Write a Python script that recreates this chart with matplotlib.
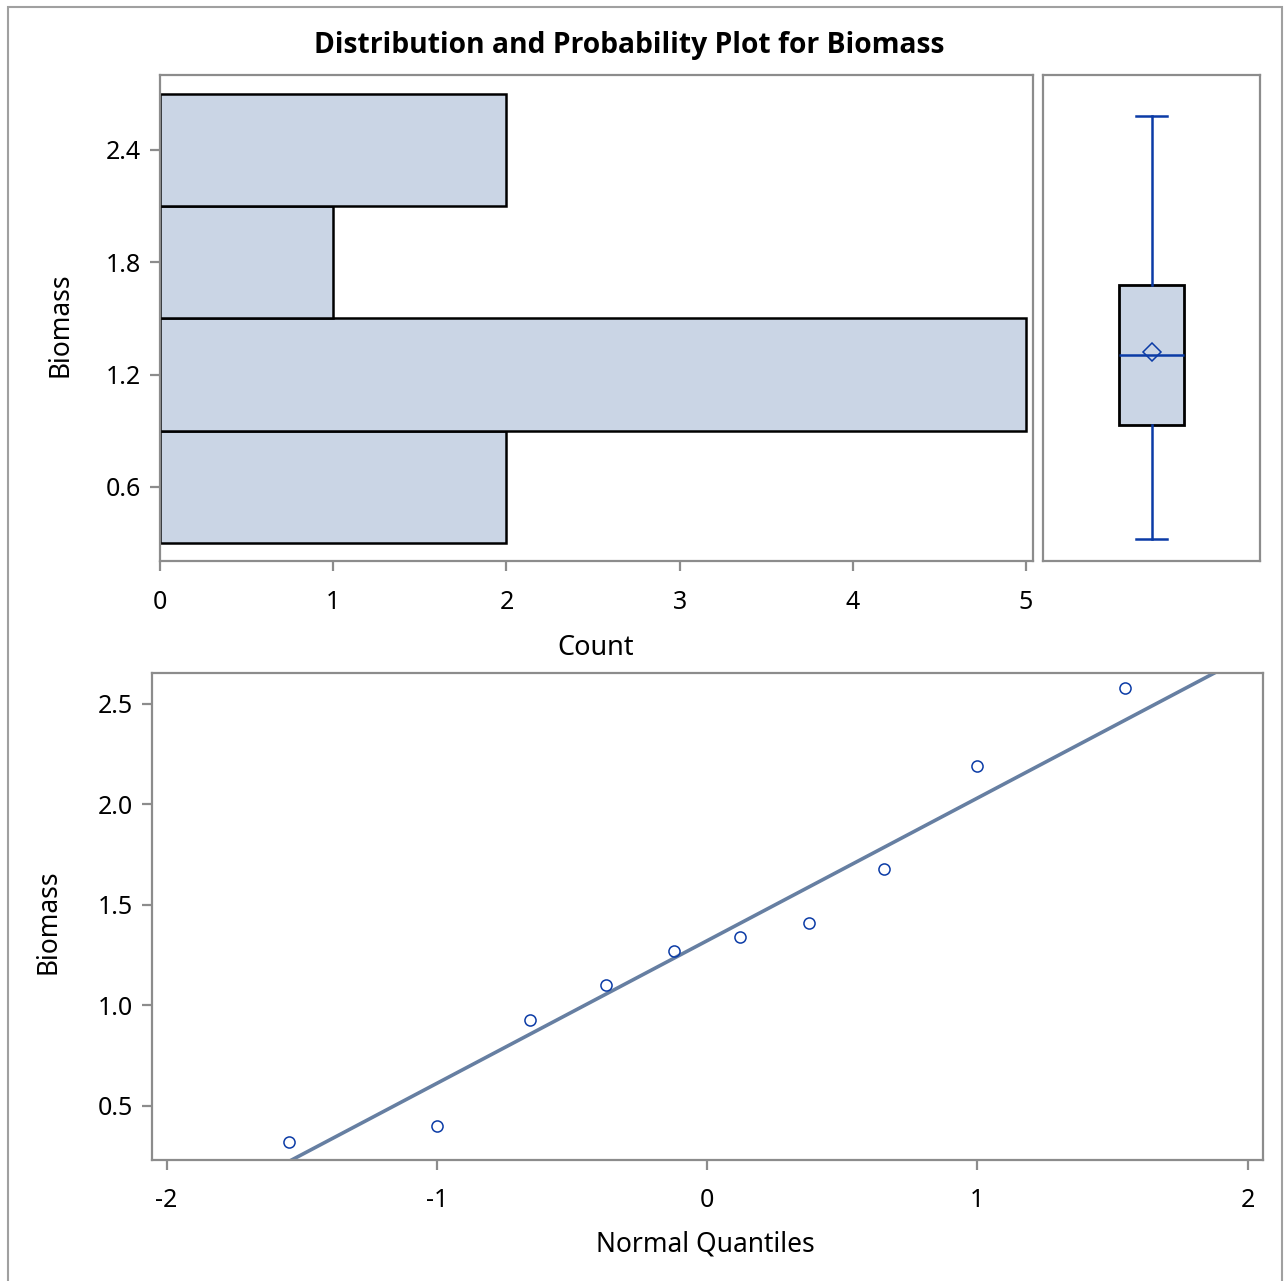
"""Distribution and probability plot for Biomass: horizontal histogram, box plot, normal Q-Q plot."""

from statistics import NormalDist

import matplotlib
matplotlib.use("Agg")
import matplotlib.pyplot as plt
import numpy as np
from matplotlib.patches import Rectangle

plt.rcParams["font.family"] = ["Noto Sans", "DejaVu Sans"]
plt.rcParams["axes.unicode_minus"] = False

biomass = [0.32, 0.40, 0.93, 1.10, 1.27, 1.34, 1.41, 1.68, 2.19, 2.58]
bin_edges = [0.3, 0.9, 1.5, 2.1, 2.7]
hist_yticks = [0.6, 1.2, 1.8, 2.4]
count_ticks = [0, 1, 2, 3, 4, 5]
qq_xticks = [-2, -1, 0, 1, 2]
qq_yticks = [0.5, 1.0, 1.5, 2.0, 2.5]

FILL = "#CAD5E5"
BLUE = "#0B3BA6"
FIT = "#667FA2"
FRAME = "#8C8C8C"

W, H = 1285, 1281
fig = plt.figure(figsize=(W / 100, H / 100), dpi=100)


def box(l, t, r, b):
    return [l / W, 1 - b / H, (r - l) / W, (b - t) / H]


def style(ax, xpad=14, ypad=6.5):
    for s in ax.spines.values():
        s.set_color(FRAME)
        s.set_linewidth(1.6)
    ax.tick_params(direction="out", length=7, width=1.6, color=FRAME,
                   labelsize=18, labelcolor="black")
    ax.tick_params(axis="x", pad=xpad)
    ax.tick_params(axis="y", pad=ypad)


# histogram
ax_h = fig.add_axes(box(160, 75, 1033, 561))
style(ax_h)
ax_h.hist(biomass, bins=bin_edges, orientation="horizontal",
          color=FILL, edgecolor="black", linewidth=1.8)
ax_h.set_xlim(0, 5.04)
ax_h.set_ylim(0.204, 2.80)
ax_h.set_xticks(count_ticks)
ax_h.set_yticks(hist_yticks)
ax_h.set_yticklabels([f"{v:.1f}" for v in hist_yticks])

# box plot (quartiles by the averaged empirical cdf, whiskers to min/max)
q1, med, q3 = np.percentile(biomass, [25, 50, 75], method="averaged_inverted_cdf")
stats = [dict(med=med, q1=q1, q3=q3, whislo=min(biomass), whishi=max(biomass),
              mean=np.mean(biomass), fliers=[])]
ax_b = fig.add_axes(box(1043, 75, 1260, 561))
style(ax_b)
ax_b.bxp(stats, positions=[0], widths=0.59, patch_artist=True, showmeans=True,
         boxprops=dict(facecolor=FILL, edgecolor="black", linewidth=2.0),
         whiskerprops=dict(color=BLUE, linewidth=1.8),
         capprops=dict(color=BLUE, linewidth=1.8),
         medianprops=dict(color=BLUE, linewidth=1.8),
         meanprops=dict(marker="D", markersize=9, markerfacecolor="none",
                        markeredgecolor=BLUE, markeredgewidth=1.1),
         capwidths=0.29)
ax_b.set_xlim(-1, 1)
ax_b.set_ylim(0.204, 2.80)
ax_b.set_xticks([])
ax_b.set_yticks([])

# normal probability plot
n = len(biomass)
quant = [NormalDist().inv_cdf((i - 0.375) / (n + 0.25)) for i in range(1, n + 1)]
mu = np.mean(biomass)
sigma = np.std(biomass, ddof=1)

ax_q = fig.add_axes(box(152, 673, 1263, 1160))
style(ax_q, xpad=13)
xs = np.array([-2.06, 2.06])
ax_q.plot(xs, mu + sigma * xs, color=FIT, linewidth=2.6, zorder=2)
ax_q.plot(quant, sorted(biomass), linestyle="none", marker="o", markersize=8,
          markerfacecolor="none", markeredgecolor=BLUE, markeredgewidth=1.1, zorder=3)
ax_q.set_xlim(-2.054, 2.057)
ax_q.set_ylim(0.231, 2.654)
ax_q.set_xticks(qq_xticks)
ax_q.set_yticks(qq_yticks)
ax_q.set_yticklabels([f"{v:.1f}" for v in qq_yticks])

# labels and title
fig.text(629.5 / W, 1 - 46 / H, "Distribution and Probability Plot for Biomass",
         ha="center", va="center", fontsize=20.3, fontweight="bold",
         family=["Open Sans", "Liberation Sans", "DejaVu Sans"])
fig.text(60 / W, 1 - 325 / H, "Biomass", ha="center", va="center",
         rotation=90, fontsize=19)
fig.text(596 / W, 1 - 648 / H, "Count", ha="center", va="center", fontsize=19.5)
fig.text(48 / W, 1 - 922 / H, "Biomass", ha="center", va="center",
         rotation=90, fontsize=19)
fig.text(705 / W, 1 - 1244 / H, "Normal Quantiles", ha="center", va="center",
         fontsize=19)

# outer frame of the graph
fig.patches.append(Rectangle((8 / W, -0.05), 1274 / W, 1.05 - 7 / H,
                             transform=fig.transFigure, fill=False,
                             edgecolor="#A0A0A0", linewidth=1.5))

fig.savefig("out.png", dpi=100)
plt.close(fig)
